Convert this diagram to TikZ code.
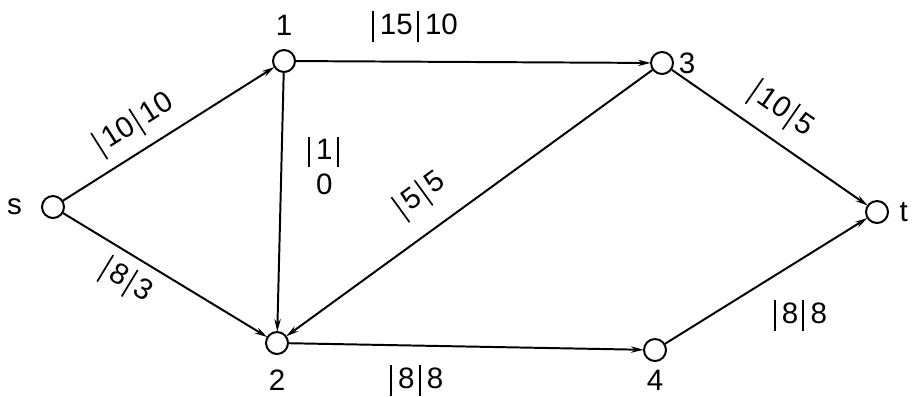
\documentclass[tikz,border=0pt]{standalone}
\usepackage{fontspec}
\setmainfont{Liberation Sans}
\usepackage{tikz}
\usetikzlibrary{arrows.meta,positioning}
\newcommand{\vrl}{\kern3pt\rule[-5.5pt]{1.2pt}{22pt}\kern4.5pt}

\begin{document}
\begin{tikzpicture}[x=0.025cm,y=-0.025cm,
    vertex/.style={draw,circle,line width=1.4pt,minimum size=0.55cm,inner sep=0pt},
    flow/.style={line width=1.4pt,-{Stealth[length=9pt,width=4.5pt]},shorten >=-0.5pt},
    amount/.style={font=\fontsize{21}{25}\selectfont}]
    \useasboundingbox (0,0) rectangle (922,396);
    \tikzset{every label/.style={amount}}
    % network
    \node[vertex,label={[label distance=10pt]left:s}] (s) at (53,207) {};
    \node[vertex,label={[label distance=6pt]above:1}] (n1) at (284,61) {};
    \node[vertex,label={[label distance=0pt]right:3}] (n3) at (662,63) {};
    \node[vertex,label={[label distance=4pt]right:t}] (t) at (877,212) {};
    \node[vertex,label={[label distance=7pt]below:2}] (n2) at (277,343) {};
    \node[vertex,label={[label distance=2pt]below:4}] (n4) at (655,350) {};
    % arcs with capacity | flow
    \draw[flow] (s) -- (n1) node[amount,pos=0.4,sloped,above=4pt] {\vrl10\vrl10};
    \draw[flow] (s) -- (n2) node[amount,pos=0.37,sloped,below=3pt] {\vrl8\vrl3};
    \draw[flow] (n1) -- (n3) node[amount,pos=0.33,above=10pt] {\vrl15\vrl10};
    \draw[flow] (n1) -- (n2) node[amount,pos=0.36,right=12pt,align=center] {\vrl1\vrl\\0};
    \draw[flow] (n3) -- (n2) node[amount,pos=0.58,sloped,above=10pt] {\vrl5\vrl5};
    \draw[flow] (n3) -- (t) node[amount,pos=0.47,sloped,above=6pt] {\vrl10\vrl5};
    \draw[flow] (n2) -- (n4) node[amount,pos=0.355,below=10pt] {\vrl8\vrl8};
    \draw[flow] (n4) -- (t) node[amount,pos=0.66,below=24pt] {\vrl8\vrl8};
\end{tikzpicture}
\end{document}
